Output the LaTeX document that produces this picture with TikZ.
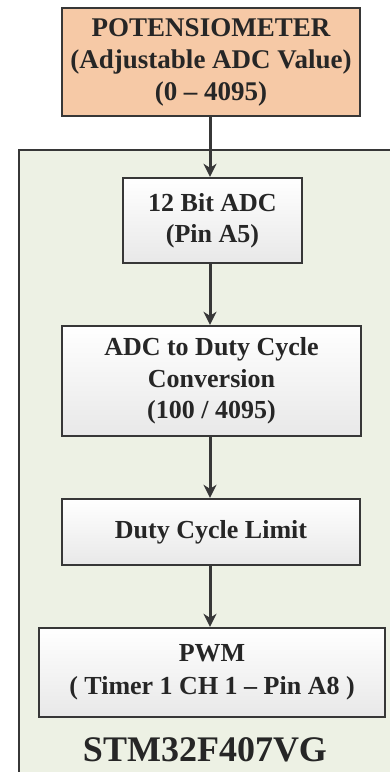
\documentclass[tikz,border=0pt]{standalone}
\usepackage{fontspec}
\setmainfont{Liberation Serif}
\usetikzlibrary{arrows.meta}
\definecolor{potfill}{RGB}{246,201,166}
\definecolor{chipfill}{RGB}{237,241,228}
\definecolor{edge}{RGB}{55,55,55}
\tikzset{
  blockbox/.style={draw=edge, line width=2.4pt, top color=white, bottom color=black!9, align=center, inner sep=0pt, font=\fontsize{26}{31}\selectfont\bfseries, text=black!85},
  flow/.style={draw=edge, line width=3pt, -{Stealth[length=13pt,width=13pt,inset=4pt]}}
}
\begin{document}
\begin{tikzpicture}[x=1pt,y=-1pt]
\useasboundingbox (0,0) rectangle (390,772);
\clip (0,0) rectangle (390,772);
\fill[white] (0,0) rectangle (390,772);
% container
\node[draw=edge, line width=2.4pt, fill=chipfill, minimum width=392pt, minimum height=640pt, anchor=north west, inner sep=0pt] (chip) at (18,149) {};
% potentiometer
\node[draw=edge, line width=2.4pt, fill=potfill, align=center, inner sep=0pt, minimum width=298pt, minimum height=108pt, font=\fontsize{27}{32}\selectfont\bfseries, text=black!85] (pot) at (211,62) {POTENSIOMETER\\(Adjustable ADC Value)\\(0 -- 4095)};
\node[blockbox, minimum width=179pt, minimum height=85pt] (adc) at (212.5,220.5) {12 Bit ADC\\(Pin A5)};
\node[blockbox, minimum width=299pt, minimum height=110pt, font=\fontsize{26}{31.5}\selectfont\bfseries] (conv) at (211.5,381) {ADC to Duty Cycle\\Conversion\\(100 / 4095)};
\node[blockbox, minimum width=298pt, minimum height=66pt] (lim) at (211,532) {Duty Cycle Limit};
\node[blockbox, minimum width=346pt, minimum height=89pt, font=\fontsize{26}{33}\selectfont\bfseries] (pwm) at (212,672.5) {PWM\\( Timer 1 CH 1 -- Pin A8 )};
\node[font=\fontsize{36}{40}\selectfont\bfseries, text=black!85] (name) at (205,750) {STM32F407VG};
% connectors
\draw[flow] (pot.south -| 210,0) -- (adc.north -| 210,0);
\draw[flow] (adc.south -| 210,0) -- (conv.north -| 210,0);
\draw[flow] (conv.south -| 210,0) -- (lim.north -| 210,0);
\draw[flow] (lim.south -| 210,0) -- (pwm.north -| 210,0);
\end{tikzpicture}
\end{document}
